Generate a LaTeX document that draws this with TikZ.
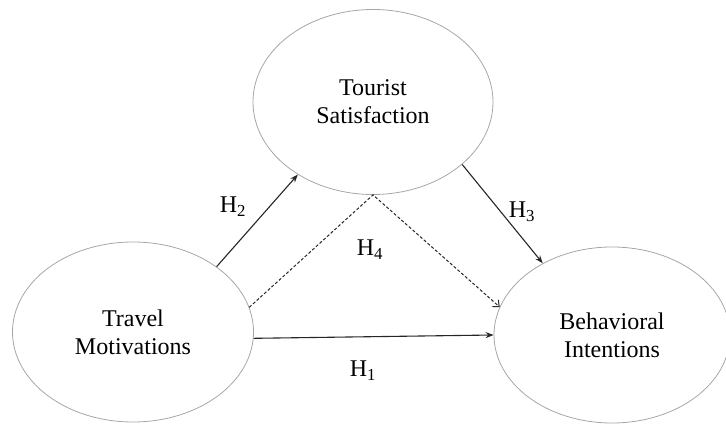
\documentclass[tikz,border=0pt]{standalone}
\usepackage{fontspec}
\setmainfont{Liberation Serif}
\usetikzlibrary{shapes.geometric,arrows.meta}
\begin{document}
\begin{tikzpicture}[x=1pt,y=-1pt,line cap=butt,line join=miter,>={Stealth[length=8pt,width=6pt]},font=\fontsize{24}{28}\selectfont]
	\tikzset{construct/.style={ellipse,draw=black!35,line width=.8pt,align=center,inner sep=0pt},
		hyp/.style={->,line width=1.1pt,black!85},
		hypdash/.style={-{Straight Barb[length=5pt,width=9pt]},line width=1pt,black!85,dash pattern=on 3pt off 2pt}}
	\useasboundingbox (0,0) rectangle (726,425);
	\node[construct,minimum width=240pt,minimum height=185pt] (ts) at (373,102) {Tourist\\Satisfaction};
	\node[construct,minimum width=241pt,minimum height=180pt] (tm) at (133,332) {Travel\\Motivations};
	\node[construct,minimum width=236pt,minimum height=176pt] (bi) at (612,335) {Behavioral\\Intentions};
	\draw[hyp] (tm.38)--(ts.-136);
	\draw[hyp] (ts.-35)--(bi.134);
	\draw[hyp] (tm.-3)--(bi.180);
	\draw[hypdash] (tm.12)--(ts.south)--(bi.166);
	\node (h2) at (233,207) {H\textsubscript{2}};
	\node (h3) at (522,212) {H\textsubscript{3}};
	\node (h4) at (370,250) {H\textsubscript{4}};
	\node (h1) at (363,371) {H\textsubscript{1}};
\end{tikzpicture}
\end{document}
